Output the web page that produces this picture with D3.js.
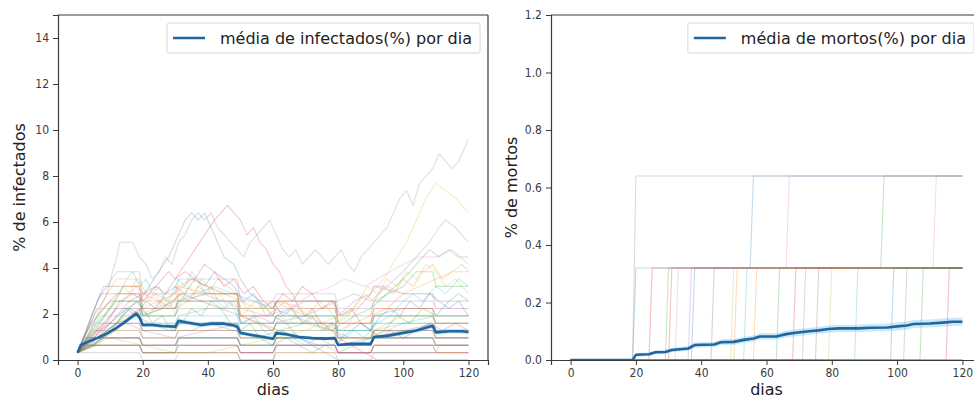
<!DOCTYPE html>
<html>
<head>
<meta charset="utf-8">
<script src="https://cdn.jsdelivr.net/npm/d3@7"></script>
<style>
  html, body { margin: 0; padding: 0; background: #fff; }
  svg { display: block; font-family: "DejaVu Sans", sans-serif; }
</style>
</head>
<body>
<svg id="chart" width="974" height="399"></svg>
<script>
// One person in the simulated population, as a percentage
const pctPerPerson = 0.32;

// Tick values shared by both panels
const dayTicks = [0, 20, 40, 60, 80, 100, 120];
const infectedTicks = [0, 2, 4, 6, 8, 10, 12, 14];
const deathTicks = [0, 0.2, 0.4, 0.6, 0.8, 1.0, 1.2];

// Matplotlib-style colour cycle used for the individual runs
const runPalette = ["#1f77b4", "#ff7f0e", "#2ca02c", "#d62728", "#9467bd",
                    "#8c564b", "#e377c2", "#7f7f7f", "#bcbd22", "#17becf"];

// Infected people per run: [day, people] at each day where the trend changes
const infectedRuns = [
  [[0,1],[5,3],[10,5],[15,7],[19,8],[22,10],[25,12],[28,14],[31,17],[33,19],[35,20],[37,19],[39,20],[41,18],[43,16],[45,14],[48,13],[50,11],[53,9],[56,8],[60,6],[64,5],[68,3],[72,2],[76,1],[80,0],[120,0]],
  [[0,1],[5,2],[10,4],[15,6],[20,7],[25,8],[30,9],[35,11],[40,10],[45,9],[50,8],[55,7],[60,8],[65,7],[70,6],[75,5],[80,4],[85,5],[90,6],[95,7],[100,9],[105,10],[110,11],[115,12],[120,12]],
  [[0,1],[6,3],[12,5],[18,6],[22,5],[28,4],[35,4],[40,5],[48,4],[55,3],[62,4],[70,5],[78,4],[85,6],[90,7],[95,9],[100,11],[104,13],[108,15],[111,14],[114,15],[117,14],[120,14]],
  [[0,1],[4,2],[8,4],[12,6],[16,8],[20,9],[24,10],[28,12],[30,11],[33,13],[36,15],[39,17],[42,19],[44,20],[46,21],[48,20],[50,19],[52,17],[54,18],[56,16],[58,15],[60,13],[62,12],[64,10],[66,9],[68,7],[70,6],[72,7],[75,5],[78,4],[80,3],[84,2],[88,1],[92,0],[120,0]],
  [[0,1],[5,2],[10,4],[15,5],[20,4],[30,3],[40,4],[50,5],[55,6],[60,5],[70,6],[80,8],[85,9],[90,8],[95,10],[100,12],[104,14],[108,16],[111,18],[113,19],[116,18],[118,17],[120,16]],
  [[0,1],[6,3],[12,5],[16,7],[20,6],[26,7],[32,9],[38,8],[44,7],[50,6],[56,5],[62,4],[68,3],[74,2],[80,2],[90,3],[100,4],[110,5],[120,5]],
  [[0,1],[5,3],[10,6],[14,8],[18,10],[20,9],[25,8],[30,7],[38,9],[45,8],[50,7],[58,6],[65,7],[72,9],[78,10],[82,11],[88,10],[92,11],[96,12],[100,13],[105,14],[110,14],[115,15],[120,13]],
  [[0,1],[3,3],[6,6],[9,9],[12,14],[13,16],[17,16],[19,14],[21,13],[23,11],[25,12],[27,14],[29,13],[31,16],[33,17],[35,19],[37,20],[39,19],[41,20],[43,18],[45,17],[47,16],[49,15],[51,14],[53,16],[55,17],[57,18],[59,19],[61,17],[63,15],[65,14],[67,15],[69,13],[71,14],[73,15],[75,14],[77,13],[79,14],[81,15],[83,13],[85,12],[87,14],[89,15],[91,16],[93,17],[95,18],[97,20],[99,22],[101,23],[103,21],[105,24],[107,25],[109,26],[111,28],[113,27],[115,26],[117,27],[119,29],[120,30]],
  [[0,1],[4,2],[10,3],[20,2],[30,1],[40,1],[50,2],[60,3],[70,4],[80,6],[86,7],[90,9],[94,11],[98,14],[101,16],[104,19],[107,22],[110,24],[113,23],[116,22],[118,21],[120,20]],
  [[0,1],[8,3],[14,5],[18,6],[24,7],[30,8],[36,9],[42,10],[48,9],[54,8],[60,7],[66,6],[72,5],[78,4],[84,3],[90,3],[100,5],[110,6],[120,6]],
  [[0,1],[7,9],[19,9],[20,6],[30,6],[31,8],[49,8],[50,5],[60,5],[61,6],[79,6],[80,4],[90,4],[91,6],[100,7],[109,7],[110,6],[120,6]],
  [[0,1],[5,6],[12,11],[19,11],[20,8],[30,8],[31,10],[40,9],[49,9],[50,7],[60,7],[61,8],[70,7],[79,7],[80,5],[90,5],[91,7],[109,7],[110,6],[120,6]],
  [[0,1],[4,5],[10,8],[19,8],[20,6],[30,6],[31,7],[49,7],[50,5],[60,5],[61,6],[79,6],[80,4],[90,4],[91,6],[109,6],[110,5],[120,5]],
  [[0,1],[3,4],[8,7],[12,9],[19,9],[20,7],[30,7],[31,9],[49,9],[50,6],[60,6],[61,8],[79,8],[80,5],[90,5],[91,7],[109,7],[110,4],[120,4]],
  [[0,1],[6,8],[12,12],[19,12],[20,9],[30,9],[31,11],[49,11],[50,8],[60,8],[61,9],[79,9],[80,7],[90,7],[91,8],[109,8],[110,7],[120,7]],
  [[0,1],[8,10],[19,10],[20,7],[30,7],[31,8],[49,8],[50,6],[60,6],[61,7],[79,7],[80,5],[90,5],[91,6],[109,6],[110,5],[120,5]],
  [[0,1],[3,2],[19,2],[20,1],[30,1],[31,2],[49,2],[50,1],[60,1],[61,2],[79,2],[80,1],[91,1],[120,1]],
  [[0,1],[19,1],[20,0],[30,0],[31,1],[49,1],[50,0],[60,0],[61,1],[79,1],[80,0],[90,0],[91,1],[120,1]],
  [[0,1],[4,4],[19,4],[20,3],[30,3],[31,4],[49,4],[50,3],[60,3],[61,4],[79,4],[80,3],[90,3],[91,4],[109,4],[110,3],[120,3]],
  [[0,1],[5,5],[19,5],[20,4],[30,4],[31,5],[49,5],[50,4],[60,4],[61,5],[79,5],[80,4],[90,4],[91,5],[109,5],[110,4],[120,4]],
  [[0,1],[2,3],[19,3],[20,2],[30,2],[31,3],[49,3],[50,2],[60,2],[61,3],[79,3],[80,2],[90,2],[91,3],[120,3]],
  [[0,1],[5,4],[10,7],[14,10],[19,10],[20,8],[24,9],[28,8],[31,10],[35,11],[40,10],[45,9],[49,9],[50,6],[55,5],[60,4],[61,5],[79,5],[80,3],[90,3],[91,4],[100,5],[109,5],[110,4],[120,4]],
  [[0,1],[2,2],[19,2],[20,1],[30,1],[31,3],[49,3],[50,2],[60,2],[61,3],[79,3],[80,2],[90,2],[91,3],[109,3],[110,2],[120,2]],
  [[0,1],[4,3],[19,3],[20,2],[49,2],[50,1],[60,1],[61,2],[79,2],[80,1],[90,1],[91,2],[120,2]],
  [[0,1],[6,4],[12,7],[19,7],[20,5],[30,5],[31,6],[40,7],[49,7],[50,5],[60,5],[61,6],[70,8],[79,8],[80,6],[85,8],[90,9],[91,10],[100,9],[109,9],[110,8],[120,8]],
  [[0,1],[4,2],[19,2],[20,1],[30,1],[31,2],[49,2],[50,1],[60,1],[61,2],[79,2],[80,1],[90,1],[91,2],[109,2],[110,1],[120,1]],
  [[0,1],[3,3],[10,5],[19,5],[20,3],[30,3],[31,4],[49,4],[50,2],[60,2],[61,3],[79,3],[80,2],[82,4],[86,7],[90,9],[91,10],[95,10],[100,9],[109,9],[110,7],[120,7]],
  [[0,1],[6,7],[19,7],[20,4],[30,4],[31,5],[49,5],[50,3],[60,3],[61,4],[79,4],[80,2],[90,2],[91,3],[109,3],[110,2],[120,2]],
  [[0,1],[5,3],[19,3],[20,2],[30,2],[31,3],[49,3],[50,2],[60,2],[61,3],[79,3],[80,2],[90,2],[91,4],[100,6],[109,6],[110,5],[120,5]],
  [[0,1],[7,6],[19,6],[20,5],[30,5],[31,6],[49,6],[50,4],[60,4],[61,5],[79,5],[80,3],[90,3],[91,5],[109,5],[110,4],[120,4]],
  [[0,1],[3,3],[19,3],[20,2],[30,2],[31,3],[49,3],[50,2],[60,2],[61,3],[79,3],[80,2],[90,2],[91,4],[109,4],[110,3],[120,3]],
  [[0,1],[2,2],[19,2],[20,1],[49,1],[50,0],[60,0],[61,1],[79,1],[80,1],[90,1],[91,2],[109,2],[110,1],[120,1]],
  [[0,1],[6,5],[12,8],[19,8],[20,6],[26,7],[30,7],[31,8],[40,9],[49,9],[50,7],[60,7],[61,8],[79,8],[80,6],[90,6],[91,8],[100,10],[104,12],[109,12],[110,10],[120,10]],
  [[0,1],[4,3],[8,5],[19,5],[20,4],[30,4],[31,5],[49,5],[50,4],[60,4],[61,5],[79,5],[80,3],[90,3],[91,4],[109,4],[110,3],[120,3]],
  [[0,1],[3,2],[49,2],[50,1],[60,1],[61,2],[79,2],[80,1],[90,1],[91,2],[120,2]],
  [[0,1],[5,4],[19,4],[20,3],[30,3],[31,4],[49,4],[50,3],[79,3],[80,2],[90,2],[91,3],[109,3],[110,2],[120,2]],
  [[0,1],[4,3],[19,3],[20,2],[30,2],[31,3],[49,3],[50,2],[79,2],[80,1],[90,1],[91,2],[120,2]],
  [[0,1],[2,2],[19,2],[20,1],[49,1],[50,0],[60,0],[61,2],[79,2],[80,1],[110,1],[111,2],[120,2]],
  [[0,1],[4,3],[8,6],[11,8],[14,10],[16,9],[18,11],[20,10],[22,8],[24,9],[26,7],[28,8],[30,6],[32,8],[34,10],[36,9],[38,11],[40,10],[42,8],[44,9],[46,7],[48,8],[50,6],[53,7],[56,5],[60,4],[62,6],[65,5],[68,7],[71,6],[74,8],[77,7],[80,5],[83,6],[86,8],[89,10],[92,9],[95,11],[98,10],[101,12],[104,11],[107,13],[110,12],[113,10],[116,11],[120,9]],
  [[0,1],[3,2],[7,5],[10,7],[13,9],[15,11],[17,12],[19,10],[21,11],[23,9],[25,10],[27,8],[29,9],[31,11],[33,10],[35,12],[37,11],[39,9],[41,10],[43,8],[45,7],[47,8],[49,6],[51,5],[54,6],[57,4],[60,3],[63,4],[66,3],[70,2],[74,3],[78,2],[82,3],[85,4],[88,3],[92,5],[96,6],[100,8],[103,9],[106,8],[110,10],[113,9],[117,11],[120,10]],
  [[0,1],[5,2],[9,4],[12,5],[15,7],[18,6],[21,8],[24,7],[27,9],[30,10],[33,9],[36,11],[39,10],[42,12],[45,11],[48,10],[51,8],[54,9],[57,7],[60,8],[63,6],[66,7],[69,5],[72,6],[75,4],[78,5],[81,3],[84,4],[87,5],[90,4],[93,6],[96,7],[99,6],[102,8],[105,7],[108,9],[111,8],[114,7],[117,8],[120,6]],
  [[0,1],[4,2],[8,3],[12,4],[16,6],[19,7],[22,6],[25,8],[28,7],[31,9],[34,8],[37,10],[40,9],[43,11],[46,10],[49,9],[52,7],[55,8],[58,6],[61,7],[64,8],[67,6],[70,5],[73,6],[76,4],[79,5],[82,6],[85,7],[88,9],[91,8],[94,10],[97,9],[100,11],[103,10],[106,12],[109,13],[112,11],[115,12],[118,13],[120,12]],
  [[0,1],[6,2],[10,4],[14,6],[18,8],[20,7],[23,5],[26,6],[29,4],[32,5],[35,7],[38,6],[41,8],[44,7],[47,5],[50,4],[53,5],[56,3],[60,2],[64,3],[68,2],[72,1],[76,2],[80,1],[85,2],[90,3],[94,4],[98,6],[102,5],[106,7],[110,6],[114,8],[117,9],[120,8]],
  [[0,1],[5,3],[9,5],[13,8],[17,9],[20,8],[24,10],[27,9],[30,11],[33,12],[36,11],[39,13],[42,12],[45,10],[48,11],[51,9],[54,10],[57,8],[60,7],[63,9],[66,8],[69,10],[72,9],[75,7],[78,8],[81,6],[84,7],[87,5],[90,4],[93,3],[96,4],[100,3],[104,4],[108,5],[112,4],[116,5],[120,4]]
];

// Daily mean of infected (%) across runs: [day, mean, confidence half-width]
const infectedMean = [
  [0,0.32,0.02],[1,0.65,0.04],[3,0.78,0.05],[6,0.95,0.06],[9,1.15,0.07],[12,1.4,0.08],[15,1.7,0.09],
  [18,2.02,0.1],[19,1.85,0.1],[20,1.52,0.09],[23,1.52,0.09],[26,1.48,0.09],[30,1.45,0.09],
  [31,1.7,0.1],[34,1.62,0.1],[38,1.52,0.1],[41,1.58,0.1],[45,1.58,0.1],[48,1.5,0.09],
  [49,1.45,0.09],[50,1.18,0.08],[53,1.1,0.08],[57,1.0,0.08],[60,0.92,0.07],[61,1.17,0.08],
  [64,1.12,0.08],[68,1.0,0.08],[72,0.95,0.07],[76,0.93,0.07],[79,0.95,0.07],[80,0.65,0.06],
  [84,0.7,0.06],[90,0.7,0.06],[91,1.0,0.07],[95,1.05,0.08],[100,1.18,0.09],[104,1.28,0.1],
  [108,1.45,0.11],[109,1.48,0.11],[110,1.2,0.1],[114,1.25,0.11],[118,1.25,0.11],[120,1.22,0.11]
];

// Dead people per run: [day, people]
const deathRuns = [
  [[0,0],[19,0],[20,1],[55,1],[56,2],[120,2]],
  [[0,0],[24,0],[25,1],[120,1]],
  [[0,0],[29,0],[30,1],[95,1],[96,2],[120,2]],
  [[0,0],[30,0],[31,1],[120,1]],
  [[0,0],[36,0],[37,1],[120,1]],
  [[0,0],[43,0],[44,1],[120,1]],
  [[0,0],[24,0],[25,1],[66,1],[67,2],[120,2]],
  [[0,0],[19,0],[20,2],[120,2]],
  [[0,0],[49,0],[50,1],[120,1]],
  [[0,0],[53,0],[54,1],[120,1]],
  [[0,0],[37,0],[38,1],[120,1]],
  [[0,0],[56,0],[57,1],[120,1]],
  [[0,0],[63,0],[64,1],[120,1]],
  [[0,0],[68,0],[69,1],[120,1]],
  [[0,0],[71,0],[72,1],[120,1]],
  [[0,0],[75,0],[76,1],[120,1]],
  [[0,0],[32,0],[33,1],[111,1],[112,2],[120,2]],
  [[0,0],[102,0],[103,1],[120,1]],
  [[0,0],[79,0],[80,1],[120,1]],
  [[0,0],[87,0],[88,1],[120,1]],
  [[0,0],[98,0],[99,1],[120,1]],
  [[0,0],[50,0],[51,1],[120,1]],
  [[0,0],[107,0],[108,1],[120,1]],
  [[0,0],[115,0],[116,1],[120,1]],
  [[0,0],[120,0]],
  [[0,0],[120,0]],
  [[0,0],[120,0]],
  [[0,0],[120,0]],
  [[0,0],[120,0]],
  [[0,0],[120,0]]
];

// Daily mean of dead (%) across runs: [day, mean, confidence half-width]
const deathMean = [
  [0,0,0.001],[19,0,0.001],[20,0.018,0.006],[24,0.02,0.006],[26,0.027,0.007],[29,0.028,0.007],
  [31,0.035,0.008],[36,0.04,0.008],[38,0.052,0.009],[44,0.054,0.009],[46,0.062,0.01],[50,0.063,0.01],
  [53,0.07,0.01],[56,0.075,0.011],[58,0.082,0.011],[63,0.082,0.011],[66,0.09,0.012],[69,0.095,0.012],
  [73,0.1,0.012],[76,0.103,0.012],[79,0.108,0.013],[82,0.11,0.013],[88,0.11,0.013],[92,0.112,0.013],
  [97,0.113,0.013],[100,0.117,0.014],[103,0.12,0.014],[105,0.125,0.014],[110,0.127,0.014],
  [114,0.13,0.014],[117,0.133,0.014],[120,0.133,0.014]
];

const svg = d3.select("#chart");
const axisColor = "#3a3a3a";
const meanColor = "#2066a0";

function drawPanel(cfg) {
  const x = d3.scaleLinear().domain([-6, 126]).range([cfg.left, cfg.right]);
  const y = d3.scaleLinear().domain(cfg.yDomain).range([cfg.bottom, cfg.top]);
  const g = svg.append("g");

  const clipId = "clip-" + cfg.id;
  svg.append("clipPath").attr("id", clipId)
    .append("rect")
    .attr("x", cfg.left).attr("y", cfg.top)
    .attr("width", cfg.right - cfg.left).attr("height", cfg.bottom - cfg.top);

  const plot = g.append("g").attr("clip-path", `url(#${clipId})`);

  // individual runs
  const runLine = d3.line()
    .x(d => x(d[0]))
    .y(d => y(d[1] * pctPerPerson));
  plot.selectAll("path.run")
    .data(cfg.runs)
    .join("path")
    .attr("class", "run")
    .attr("d", runLine)
    .attr("fill", "none")
    .attr("stroke", (d, i) => runPalette[i % runPalette.length])
    .attr("stroke-opacity", cfg.runOpacity)
    .attr("stroke-width", 1.1)
    .attr("stroke-linejoin", "round");

  // confidence band and mean
  const band = d3.area()
    .x(d => x(d[0]))
    .y0(d => y(Math.max(0, d[1] - d[2])))
    .y1(d => y(d[1] + d[2]));
  plot.append("path")
    .datum(cfg.mean)
    .attr("d", band)
    .attr("fill", "#4fb3ea")
    .attr("fill-opacity", 0.3);

  const meanLine = d3.line().x(d => x(d[0])).y(d => y(d[1]));
  plot.append("path")
    .datum(cfg.mean)
    .attr("d", meanLine)
    .attr("fill", "none")
    .attr("stroke", meanColor)
    .attr("stroke-width", 2.6)
    .attr("stroke-linejoin", "round");

  // axes
  const xAxis = d3.axisBottom(x).tickValues(dayTicks).tickSize(5).tickPadding(3)
    .tickFormat(d3.format("d"));
  const gx = g.append("g").attr("transform", `translate(0,${cfg.bottom})`).call(xAxis);
  const yAxis = d3.axisLeft(y).tickValues(cfg.yTicks).tickSize(5).tickPadding(4)
    .tickFormat(cfg.yFormat);
  const gy = g.append("g").attr("transform", `translate(${cfg.left},0)`).call(yAxis);

  [gx, gy].forEach(a => {
    a.select(".domain").attr("stroke", axisColor).attr("stroke-width", 1.2);
    a.selectAll(".tick line").attr("stroke", axisColor).attr("stroke-width", 1);
    a.selectAll(".tick text").attr("fill", "#3a3a3a").style("font-size", "12px")
      .style("font-family", "'DejaVu Sans Condensed', 'DejaVu Sans', sans-serif");
  });

  // top and right spines
  g.append("line")
    .attr("x1", cfg.left).attr("x2", cfg.right).attr("y1", cfg.top).attr("y2", cfg.top)
    .attr("stroke", axisColor).attr("stroke-width", 1.2);
  g.append("line")
    .attr("x1", cfg.right).attr("x2", cfg.right).attr("y1", cfg.top).attr("y2", cfg.bottom)
    .attr("stroke", axisColor).attr("stroke-width", 1.2);

  // axis titles
  g.append("text")
    .attr("x", x(60))
    .attr("y", cfg.bottom + 35)
    .attr("text-anchor", "middle")
    .attr("fill", "#222")
    .style("font-size", "16px")
    .text("dias");
  g.append("text")
    .attr("transform", `translate(${cfg.yLabelX},${(cfg.top + cfg.bottom) / 2}) rotate(-90)`)
    .attr("text-anchor", "middle")
    .attr("fill", "#222")
    .style("font-size", "16px")
    .text(cfg.yLabel);

  // legend (upper right)
  const leg = g.append("g");
  const legBox = leg.append("rect");
  const legText = leg.append("text")
    .attr("fill", "#222")
    .style("font-size", "16px")
    .attr("text-anchor", "end")
    .text(cfg.legendLabel);
  const boxRight = cfg.right - 8;
  const textEnd = boxRight - 8;
  const textLen = legText.node().getComputedTextLength();
  const textStart = textEnd - textLen;
  legText.attr("x", textEnd).attr("y", cfg.top + 29);
  const lineEnd = textStart - 15;
  const lineStart = lineEnd - 32;
  leg.append("line")
    .attr("x1", lineStart).attr("x2", lineEnd)
    .attr("y1", cfg.top + 23).attr("y2", cfg.top + 23)
    .attr("stroke", meanColor).attr("stroke-width", 2.6);
  legBox
    .attr("x", lineStart - 6).attr("y", cfg.top + 8)
    .attr("width", boxRight - (lineStart - 6)).attr("height", 30)
    .attr("rx", 2)
    .attr("fill", "#fff").attr("fill-opacity", 0.85)
    .attr("stroke", "#d8d8d8").attr("stroke-width", 1);
}

drawPanel({
  id: "infected",
  left: 58, right: 488, top: 15, bottom: 360,
  yDomain: [0, 15], yTicks: infectedTicks, yFormat: d3.format("d"),
  runs: infectedRuns, mean: infectedMean, runOpacity: 0.25,
  yLabel: "% de infectados", yLabelX: 25,
  legendLabel: "média de infectados(%) por dia"
});

drawPanel({
  id: "deaths",
  left: 551, right: 982, top: 15, bottom: 360,
  yDomain: [0, 1.2], yTicks: deathTicks, yFormat: d3.format(".1f"),
  runs: deathRuns, mean: deathMean, runOpacity: 0.28,
  yLabel: "% de mortos", yLabelX: 517,
  legendLabel: "média de mortos(%) por dia"
});
</script>
</body>
</html>
